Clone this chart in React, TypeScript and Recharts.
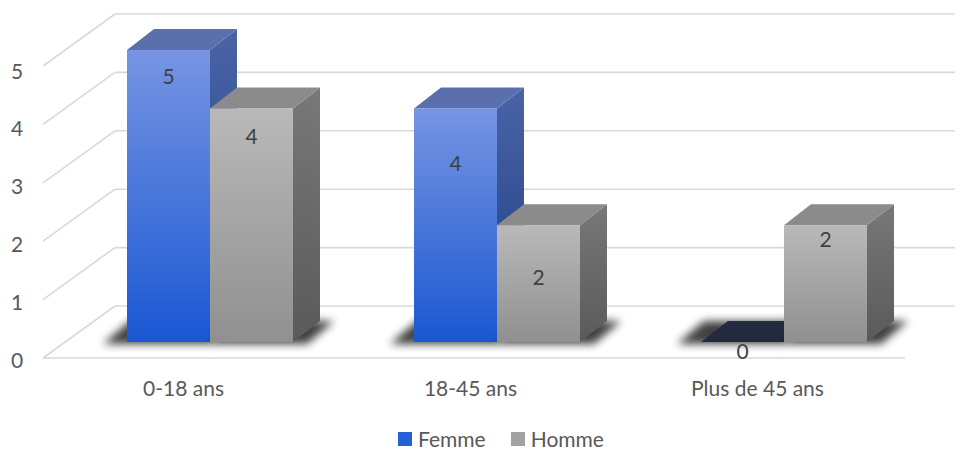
import React from 'react';
import { BarChart, Bar, XAxis, YAxis, CartesianGrid, Legend, LabelList } from 'recharts';

const CATEGORIES = ['0-18 ans', '18-45 ans', 'Plus de 45 ans'];
const FEMME = [5, 4, 0];
const HOMME = [4, 2, 2];
const Y_TICKS = [0, 1, 2, 3, 4, 5];
const SERIES_NAMES = ['Femme', 'Homme'];

// layout-only tweaks for value label placement (Excel 3D quirk)
const FEMME_LABEL_DY = [25, 54, 8];
const HOMME_LABEL_DY = [27, 51, 13];

const data = CATEGORIES.map((c, i) => ({ cat: c, femme: FEMME[i], homme: HOMME[i] }));

const FONT = 'Lato, "Open Sans", sans-serif';
const TEXT = '#595959';
const GRID = '#d9d9d9';
const DX = 27;
const DY = -21;

type Pal = {
  key: string;
  frontTop: string;
  frontBot: string;
  sideTop: string;
  sideBot: string;
  top: string;
  zero: string;
  shadowLeft: number;
  shadowRight: number;
};

const BLUE: Pal = {
  key: 'f',
  frontTop: '#7795e2',
  frontBot: '#1a57d3',
  sideTop: '#4a64a6',
  sideBot: '#1d3c82',
  top: '#5a70ad',
  zero: '#222a40',
  shadowLeft: 24,
  shadowRight: 0,
};
const GREY: Pal = {
  key: 'h',
  frontTop: '#b9b9b9',
  frontBot: '#909090',
  sideTop: '#787878',
  sideBot: '#5a5a5a',
  top: '#8b8b8b',
  zero: '#6a6a6a',
  shadowLeft: 0,
  shadowRight: 14,
};

const pts = (a: number[][]) => a.map((p) => p.join(',')).join(' ');

const makeShape = (pal: Pal) => (props: any) => {
  const { x, y, width, height, index } = props;
  const x0 = x;
  const x1 = x + width;
  const yb = y + Math.max(height, 0);
  const yt = y;
  const id = `${pal.key}${index}`;
  const shadow = (
    <polygon
      points={pts([
        [x0 - pal.shadowLeft, yb + 2],
        [x1 + pal.shadowRight, yb + 2],
        [x1 + DX + pal.shadowRight, yb + DY],
        [x0 + DX - pal.shadowLeft, yb + DY],
      ])}
      fill="#000"
      opacity={0.75}
      filter="url(#shadowBlur)"
    />
  );
  if (height < 0.5) {
    return (
      <g>
        {shadow}
        <polygon
          points={pts([
            [x0, yb],
            [x1, yb],
            [x1 + DX, yb + DY],
            [x0 + DX, yb + DY],
          ])}
          fill={pal.zero}
        />
      </g>
    );
  }
  return (
    <g>
      <defs>
        <linearGradient id={`fr${id}`} x1="0" y1="0" x2="0" y2="1">
          <stop offset="0%" stopColor={pal.frontTop} />
          <stop offset="100%" stopColor={pal.frontBot} />
        </linearGradient>
        <linearGradient id={`sd${id}`} x1="0" y1="0" x2="0" y2="1">
          <stop offset="0%" stopColor={pal.sideTop} />
          <stop offset="100%" stopColor={pal.sideBot} />
        </linearGradient>
      </defs>
      {shadow}
      <polygon
        points={pts([
          [x1, yt],
          [x1 + DX, yt + DY],
          [x1 + DX, yb + DY],
          [x1, yb],
        ])}
        fill={`url(#sd${id})`}
      />
      <polygon
        points={pts([
          [x0, yt],
          [x1, yt],
          [x1 + DX, yt + DY],
          [x0 + DX, yt + DY],
        ])}
        fill={pal.top}
      />
      <rect x={x0} y={yt} width={width} height={height} fill={`url(#fr${id})`} />
    </g>
  );
};

const FemmeShape = makeShape(BLUE);
const HommeShape = makeShape(GREY);

const makeLabel = (dys: number[]) => (props: any) => {
  const { x, y, width, value, index } = props;
  return (
    <text
      x={x + width / 2}
      y={y + dys[index]}
      textAnchor="middle"
      dominantBaseline="central"
      fill="#404040"
      fontFamily={FONT}
      fontSize={21}
    >
      {value}
    </text>
  );
};

const gridLine = (props: any) => {
  const { x1, y1, x2, index } = props;
  const bottom = props.y + props.height;
  const isFloor = Math.abs(y1 - bottom) < 1;
  const bx = x1 + 49;
  const by = y1 - 36;
  const fx = x1 - 23;
  const fy = y1 + 16;
  return (
    <g key={`g${index}`}>
      <line x1={bx} y1={by} x2={963} y2={by} stroke={GRID} strokeWidth={1.6} />
      <line x1={fx} y1={fy} x2={bx} y2={by} stroke={GRID} strokeWidth={1.6} />
      {isFloor && <line x1={fx} y1={fy} x2={x2 - 22} y2={fy} stroke={GRID} strokeWidth={1.6} />}
    </g>
  );
};

const YTick = (props: any) => {
  const { y, payload } = props;
  return (
    <text
      x={17}
      y={y + 17 + payload.value * 0.6}
      textAnchor="middle"
      dominantBaseline="central"
      fill={TEXT}
      fontFamily={FONT}
      fontSize={21}
    >
      {payload.value}
    </text>
  );
};

const XTick = (props: any) => {
  const { x, y, payload } = props;
  return (
    <text
      x={x - 26}
      y={y + 37}
      textAnchor="middle"
      dominantBaseline="central"
      fill={TEXT}
      fontFamily={FONT}
      fontSize={21}
    >
      {payload.value}
    </text>
  );
};

const LegendContent = () => (
  <div
    style={{
      display: 'flex',
      alignItems: 'center',
      height: 22,
      lineHeight: '22px',
      fontFamily: FONT,
      fontSize: 21,
      color: TEXT,
      whiteSpace: 'nowrap',
    }}
  >
    <span style={{ width: 14, height: 14, background: '#2560d8', display: 'inline-block', marginRight: 6 }} />
    <span style={{ marginRight: 25 }}>{SERIES_NAMES[0]}</span>
    <span style={{ width: 14, height: 14, background: '#a2a2a2', display: 'inline-block', marginRight: 6 }} />
    <span>{SERIES_NAMES[1]}</span>
  </div>
);

export default function App() {
  return (
    <div style={{ width: 963, height: 456, position: 'relative', margin: -8, overflow: 'hidden' }}>
      <svg width={0} height={0} style={{ position: 'absolute' }}>
        <defs>
          <filter id="shadowBlur" x="-50%" y="-50%" width="200%" height="200%">
            <feGaussianBlur stdDeviation="4" />
          </filter>
        </defs>
      </svg>
      <BarChart
        width={963}
        height={456}
        data={data}
        margin={{ top: 50, right: 36, left: 0, bottom: 52 }}
        barCategoryGap="21.25%"
        barGap={0}
      >
        <CartesianGrid vertical={false} horizontal={gridLine} />
        <XAxis dataKey="cat" height={40} axisLine={false} tickLine={false} tick={<XTick />} interval={0} />
        <YAxis
          width={66}
          domain={[0, 5]}
          ticks={Y_TICKS}
          axisLine={false}
          tickLine={false}
          tick={<YTick />}
          interval={0}
        />
        <Legend
          verticalAlign="bottom"
          content={<LegendContent />}
          wrapperStyle={{ top: 428, left: 398, width: 'auto', height: 22 }}
        />
        <Bar dataKey="femme" name={SERIES_NAMES[0]} shape={FemmeShape} isAnimationActive={false}>
          <LabelList dataKey="femme" content={makeLabel(FEMME_LABEL_DY)} />
        </Bar>
        <Bar dataKey="homme" name={SERIES_NAMES[1]} shape={HommeShape} isAnimationActive={false}>
          <LabelList dataKey="homme" content={makeLabel(HOMME_LABEL_DY)} />
        </Bar>
      </BarChart>
    </div>
  );
}
